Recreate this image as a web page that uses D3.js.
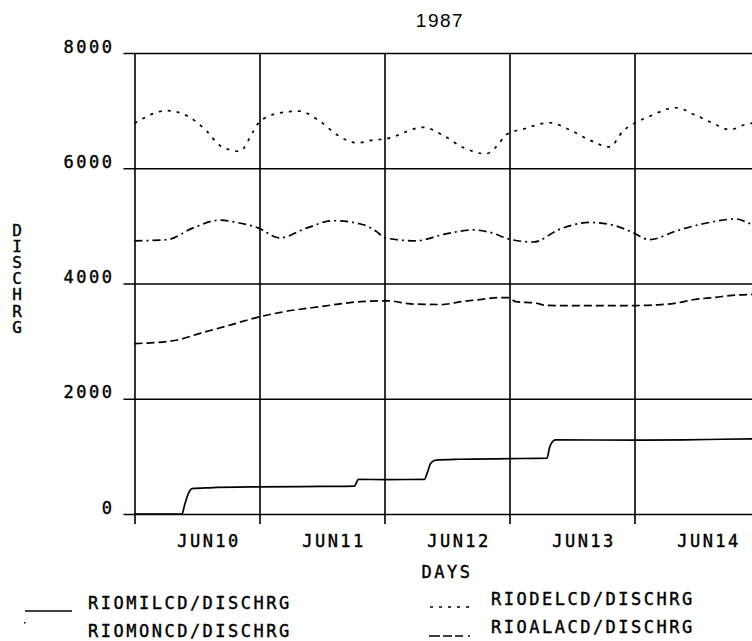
<!DOCTYPE html>
<html>
<head>
<meta charset="utf-8">
<script src="https://cdnjs.cloudflare.com/ajax/libs/d3/7.8.5/d3.min.js"></script>
<style>
  body { margin: 0; background: #fff; }
  svg { display: block; }
</style>
</head>
<body>
<div id="chart"></div>
<script>

// ---------------- data (days since JUN10 00:00, discharge) ----------------
var title = '1987';
var yTicks = [0, 2000, 4000, 6000, 8000];
var dayCount = 5;

// RIOMILCD/DISCHRG  (solid)
var milDays   = [0, 0.38, 0.40, 0.43, 0.46, 0.6, 1.0, 1.5, 1.76, 1.775, 1.79, 2.0, 2.32, 2.34, 2.37, 2.41, 2.6, 3.0, 3.30, 3.32, 3.35, 3.37, 4.0, 4.4, 4.7, 5.0];
var milValues = [0, 0, 150, 350, 440, 455, 471, 478, 485, 540, 600, 598, 600, 700, 880, 935, 950, 961, 970, 1150, 1270, 1287, 1281, 1288, 1297, 1305];

// RIOMONCD/DISCHRG  (dashed)
var monDays   = [0, 0.32, 0.53, 0.75, 0.96, 1.17, 1.49, 1.81, 2.03, 2.21, 2.46, 2.60, 2.78, 2.92, 2.99, 3.05, 3.21, 3.29, 3.51, 3.78, 4.0, 4.19, 4.32, 4.48, 4.65, 4.78, 4.94, 5.0];
var monValues = [2958, 3011, 3140, 3270, 3400, 3500, 3600, 3685, 3700, 3645, 3635, 3680, 3726, 3755, 3755, 3685, 3660, 3620, 3616, 3615, 3617, 3630, 3655, 3722, 3760, 3795, 3810, 3812];

// RIODELCD/DISCHRG  (dotted)
var delDays   = [0, 0.26, 0.42, 0.58, 0.68, 0.84, 0.95, 0.99, 1.14, 1.32, 1.48, 1.62, 1.78, 1.91, 2.01, 2.31, 2.47, 2.63, 2.81, 2.92, 2.97, 3.11, 3.32, 3.48, 3.64, 3.80, 3.91, 3.99, 4.12, 4.33, 4.49, 4.63, 4.76, 4.89, 5.0];
var delValues = [6780, 7000, 6910, 6640, 6400, 6295, 6640, 6780, 6950, 6990, 6820, 6580, 6440, 6490, 6510, 6710, 6570, 6360, 6250, 6440, 6580, 6680, 6790, 6670, 6490, 6370, 6650, 6770, 6900, 7050, 6920, 6780, 6670, 6760, 6800];

// RIOALACD/DISCHRG  (dash-dot)
var alaDays   = [0, 0.26, 0.47, 0.68, 0.84, 0.99, 1.16, 1.38, 1.59, 1.83, 1.93, 2.01, 2.25, 2.47, 2.71, 2.84, 3.00, 3.19, 3.40, 3.64, 3.85, 3.99, 4.12, 4.33, 4.60, 4.81, 4.94, 5.0];
var alaValues = [4740, 4760, 4965, 5100, 5050, 4965, 4790, 4965, 5090, 5020, 4910, 4790, 4740, 4850, 4930, 4890, 4770, 4720, 4940, 5060, 5000, 4880, 4760, 4910, 5060, 5120, 5030, 5000];

var legendLeft  = ['RIOMILCD/DISCHRG', 'RIOMONCD/DISCHRG'];
var legendRight = ['RIODELCD/DISCHRG', 'RIOALACD/DISCHRG'];


function renderChart(params) {

  // exposed variables
  var attrs = {
    svgWidth: 752,
    svgHeight: 641,
    plotLeft: 134.5,
    plotTop: 53,
    plotBottom: 514,
    dayWidth: 125,
    container: 'body',
    plotFont: '"DejaVu Sans Mono", monospace',
    titleFont: '"Liberation Sans", Arial, sans-serif'
  };

  Object.keys(attrs).forEach(function (key) {
    if (params && params[key]) attrs[key] = params[key];
  });

  //calculated properties
  var calc = {};
  calc.start = new Date(1987, 5, 10);
  calc.plotRight = attrs.plotLeft + attrs.dayWidth * dayCount;
  calc.plotHeight = attrs.plotBottom - attrs.plotTop;
  calc.toDate = function (d) { return new Date(calc.start.getTime() + d * 864e5); };

  //add svg
  var svg = d3.select(attrs.container)
    .append('svg')
    .attr('width', attrs.svgWidth)
    .attr('height', attrs.svgHeight)
    .style('background', '#fff');

  var x = d3.scaleTime()
    .domain([calc.toDate(0), calc.toDate(dayCount)])
    .range([attrs.plotLeft, calc.plotRight]);

  var y = d3.scaleLinear()
    .domain([0, 8000])
    .range([attrs.plotBottom, attrs.plotTop]);

  // plotter-ish lettering
  var plotText = function (sel) {
    sel.attr('font-family', attrs.plotFont)
      .attr('font-size', 17)
      .attr('letter-spacing', 2.5)
      .attr('fill', '#000')
      .attr('stroke', '#000')
      .attr('stroke-width', 0.4);
  };

  // horizontal grid + value labels
  var yAxis = svg.append('g')
    .attr('transform', 'translate(' + attrs.plotLeft + ',0)')
    .call(d3.axisLeft(y).tickValues(yTicks).tickSize(-(calc.plotRight - attrs.plotLeft)).tickFormat(d3.format('d')));
  yAxis.select('.domain').remove();
  yAxis.selectAll('.tick line')
    .attr('x1', -11)
    .attr('stroke', '#000')
    .attr('stroke-width', 1.6);
  yAxis.selectAll('.tick text')
    .attr('x', 112 - attrs.plotLeft + 2.5)
    .attr('y', -1)
    .attr('dy', 0)
    .call(plotText);

  // vertical day lines
  var dayAxis = svg.append('g')
    .attr('transform', 'translate(0,' + attrs.plotBottom + ')')
    .call(d3.axisBottom(x).tickValues(d3.timeDay.range(calc.toDate(0), calc.toDate(dayCount))).tickSize(-calc.plotHeight).tickFormat(''));
  dayAxis.select('.domain').remove();
  dayAxis.selectAll('.tick line')
    .attr('y1', 10)
    .attr('stroke', '#000')
    .attr('stroke-width', 1.6);

  // day labels at noon
  var noons = d3.range(dayCount).map(function (d) { return calc.toDate(d + 0.5); });
  var labelAxis = svg.append('g')
    .attr('transform', 'translate(0,' + attrs.plotBottom + ')')
    .call(d3.axisBottom(x).tickValues(noons).tickSize(0).tickFormat(function (d) {
      return 'JUN' + d3.timeFormat('%d')(d);
    }));
  labelAxis.select('.domain').remove();
  labelAxis.selectAll('.tick text')
    .attr('y', 33)
    .attr('dy', 0)
    .attr('dx', 11.5)
    .call(plotText);

  // series
  var series = [
    { days: milDays, values: milValues, dash: null },
    { days: monDays, values: monValues, dash: '8,4' },
    { days: delDays, values: delValues, dash: '3,6' },
    { days: alaDays, values: alaValues, dash: '8,4,2,4' }
  ];

  var line = d3.line()
    .x(function (d) { return x(d.date); })
    .y(function (d) { return y(d.value); })
    .curve(d3.curveMonotoneX);

  svg.append('g').selectAll('path')
    .data(series)
    .enter()
    .append('path')
    .attr('d', function (s) {
      return line(s.days.map(function (d, i) { return { date: calc.toDate(d), value: s.values[i] }; }));
    })
    .attr('fill', 'none')
    .attr('stroke', '#000')
    .attr('stroke-width', 1.7)
    .attr('stroke-dasharray', function (s) { return s.dash; });

  // title
  svg.append('text')
    .attr('x', 440)
    .attr('y', 27)
    .attr('text-anchor', 'middle')
    .attr('font-family', attrs.titleFont)
    .attr('font-size', 19)
    .attr('letter-spacing', 1.5)
    .text(title);

  // stacked y title (one text, upright letters, tight pitch)
  svg.append('text')
    .attr('x', 17)
    .attr('y', 221)
    .style('writing-mode', 'vertical-rl')
    .style('text-orientation', 'upright')
    .attr('font-family', attrs.plotFont)
    .attr('font-size', 16)
    .attr('letter-spacing', -2.9)
    .attr('stroke', '#000')
    .attr('stroke-width', 0.4)
    .text('DISCHRG');

  // x title
  svg.append('text')
    .attr('x', 447)
    .attr('y', 578)
    .attr('text-anchor', 'middle')
    .call(plotText)
    .text('DAYS');

  // legend
  var legend = svg.append('g');
  legend.selectAll('.left')
    .data(legendLeft)
    .enter()
    .append('text')
    .attr('class', 'left')
    .attr('x', 88)
    .attr('y', function (d, i) { return 609 + i * 28; })
    .call(plotText)
    .text(function (d) { return d; });

  legend.selectAll('.right')
    .data(legendRight)
    .enter()
    .append('text')
    .attr('class', 'right')
    .attr('x', 491)
    .attr('y', function (d, i) { return 605 + i * 28; })
    .call(plotText)
    .text(function (d) { return d; });

  var keys = [
    { x1: 25, x2: 72, y: 611, dash: series[0].dash },
    { x1: 430, x2: 469, y: 607, dash: series[2].dash },
    { x1: 429, x2: 476, y: 636, dash: '11,3,9,3,8,5,2' }
  ];
  legend.selectAll('line')
    .data(keys)
    .enter()
    .append('line')
    .attr('x1', function (d) { return d.x1; })
    .attr('x2', function (d) { return d.x2; })
    .attr('y1', function (d) { return d.y; })
    .attr('y2', function (d) { return d.y; })
    .attr('stroke', '#000')
    .attr('stroke-width', 1.6)
    .attr('stroke-dasharray', function (d) { return d.dash; });

  // stray plotter dot left of RIOMONCD
  legend.append('rect')
    .attr('x', 24).attr('y', 622)
    .attr('width', 1.5).attr('height', 1.5)
    .attr('fill', '#000');

  return svg;
}

renderChart({ container: '#chart' });
</script>
</body>
</html>
